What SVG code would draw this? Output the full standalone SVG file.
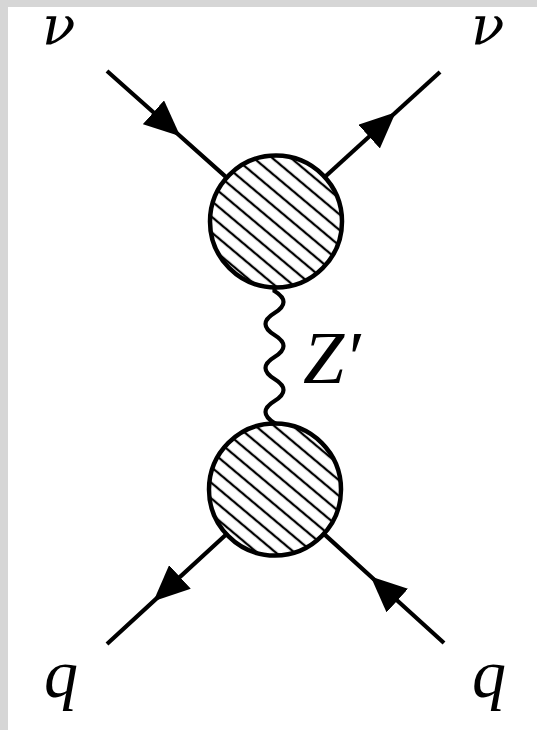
<svg xmlns="http://www.w3.org/2000/svg" width="537" height="730" viewBox="0 0 537 730">
<style>
.line{fill:none;stroke:#000;stroke-width:4.2}
.blob{fill:url(#hatch);stroke:#000;stroke-width:4.5}
.lbl{font-family:"Liberation Serif","DejaVu Serif",serif;font-style:italic;font-size:68px;fill:#000}
.nu{font-family:"DejaVu Serif","Liberation Serif",serif;font-style:italic;font-size:55px;fill:#000}
</style>
<defs>
<marker id="arr" viewBox="-18 -16 36 32" refX="0" refY="0" markerWidth="36" markerHeight="32" markerUnits="userSpaceOnUse" orient="auto">
<path d="M18,0 L-18,-16 L-18,16 Z" fill="#000"/>
</marker>
<pattern id="hatch" patternUnits="userSpaceOnUse" width="12" height="12" patternTransform="rotate(40)">
<rect width="12" height="12" fill="#fff"/>
<line x1="0" y1="6" x2="12" y2="6" stroke="#000" stroke-width="2.3"/>
</pattern>
</defs>
<rect x="0" y="0" width="537" height="730" fill="#d6d6d6"/>
<rect x="8" y="7" width="529" height="723" fill="#fff"/>
<g id="connectors">
<path class="line" d="M107,71 L166.85,124.3 L226.7,177.6" marker-mid="url(#arr)"/>
<path class="line" d="M324.8,177 L382.4,124.5 L440,72" marker-mid="url(#arr)"/>
<path class="line" d="M226.4,534.2 L166.7,589.1 L107,644" marker-mid="url(#arr)"/>
<path class="line" d="M444,643 L384,588.5 L323.9,533.9" marker-mid="url(#arr)"/>
<path class="line" d="M274.5,287 L274.5,291 q18,11 0,22 t0,22 t0,22 t0,22 t0,22 t0,22 L274.5,425"/>
</g>
<g id="vertex-top"><circle class="blob" cx="276" cy="221.5" r="66"/></g>
<g id="vertex-bottom"><circle class="blob" cx="275" cy="489.5" r="66"/></g>
<g id="label-nu-in"><text class="nu" x="42" y="44">ν</text></g>
<g id="label-nu-out"><text class="nu" x="471" y="44">ν</text></g>
<g id="label-q-in"><text class="lbl" x="44" y="697">q</text></g>
<g id="label-q-out"><text class="lbl" x="472" y="697">q</text></g>
<g id="label-z"><text class="lbl" x="303" y="383" style="font-size:74px">Z′</text></g>
</svg>
